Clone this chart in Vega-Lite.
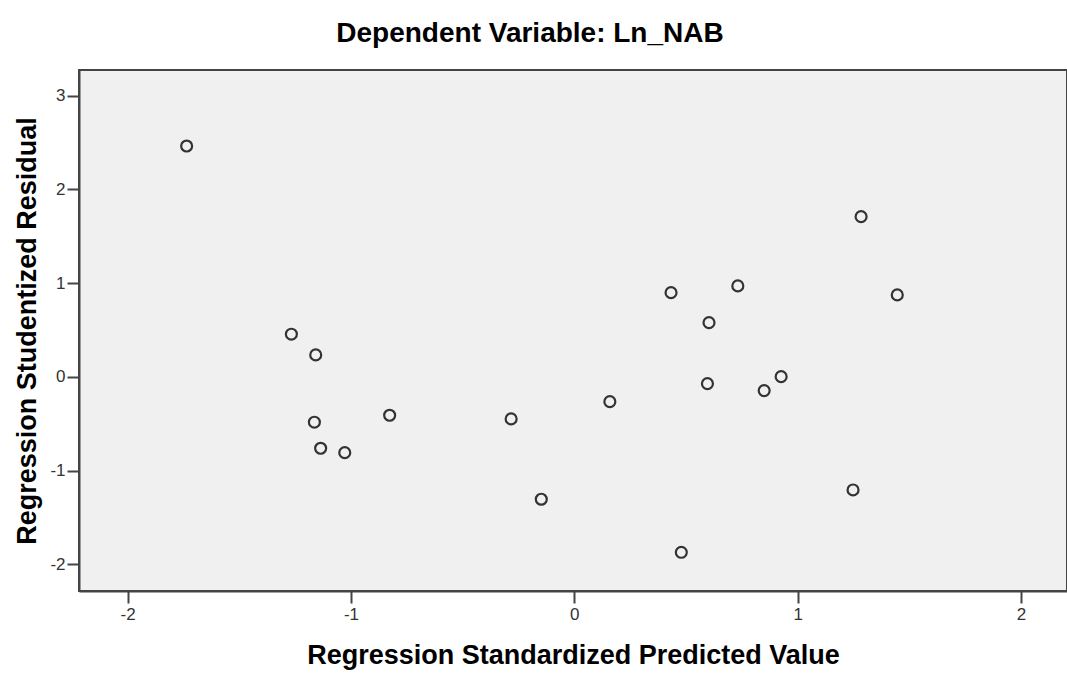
{
  "$schema": "https://vega.github.io/schema/vega-lite/v6.json",
  "width": 988,
  "height": 521,
  "autosize": {"type": "none"},
  "padding": {"left": 79, "top": 70, "right": 0, "bottom": 82},
  "background": "white",
  "title": {
    "text": "Dependent Variable: Ln_NAB",
    "font": "Liberation Sans",
    "fontSize": 28,
    "fontWeight": "bold",
    "color": "#000000",
    "anchor": "middle",
    "dx": -43,
    "offset": 22
  },
  "config": {
    "view": {"fill": "#F0F0F0", "stroke": "#444444", "strokeWidth": 2},
    "axis": {
      "labelFont": "Liberation Sans",
      "labelFontSize": 17,
      "labelColor": "#333333",
      "titleFont": "Liberation Sans",
      "titleFontSize": 27,
      "titleFontWeight": "bold",
      "titleColor": "#000000",
      "domainColor": "#444444",
      "domainWidth": 2,
      "tickColor": "#444444",
      "tickWidth": 2,
      "tickSize": 12,
      "grid": false
    }
  },
  "data": {
    "values": [
      {"pred": -1.736, "resid": 2.463},
      {"pred": -1.267, "resid": 0.455},
      {"pred": -1.158, "resid": 0.234},
      {"pred": -1.164, "resid": -0.484},
      {"pred": -1.136, "resid": -0.762},
      {"pred": -1.028, "resid": -0.809},
      {"pred": -0.827, "resid": -0.410},
      {"pred": -0.283, "resid": -0.449},
      {"pred": -0.148, "resid": -1.306},
      {"pred": 0.159, "resid": -0.265},
      {"pred": 0.433, "resid": 0.898},
      {"pred": 0.479, "resid": -1.872},
      {"pred": 0.596, "resid": -0.073},
      {"pred": 0.603, "resid": 0.578},
      {"pred": 0.732, "resid": 0.970},
      {"pred": 0.850, "resid": -0.147},
      {"pred": 0.926, "resid": 0.002},
      {"pred": 1.248, "resid": -1.207},
      {"pred": 1.284, "resid": 1.709},
      {"pred": 1.446, "resid": 0.874}
    ]
  },
  "mark": {"type": "point", "shape": "circle", "filled": false, "size": 120, "stroke": "#333333", "strokeWidth": 2.2, "opacity": 1},
  "encoding": {
    "x": {
      "field": "pred",
      "type": "quantitative",
      "title": "Regression Standardized Predicted Value",
      "scale": {"domain": [-2.218, 2.206], "nice": false, "zero": false},
      "axis": {"values": [-2, -1, 0, 1, 2], "labelExpr": "'' + datum.value", "labelPadding": 3, "titlePadding": 20}
    },
    "y": {
      "field": "resid",
      "type": "quantitative",
      "title": "Regression Studentized Residual",
      "scale": {"domain": [-2.285, 3.274], "nice": false, "zero": false},
      "axis": {"values": [-2, -1, 0, 1, 2, 3], "labelExpr": "'' + datum.value", "labelPadding": 2, "titlePadding": 8}
    }
  }
}
